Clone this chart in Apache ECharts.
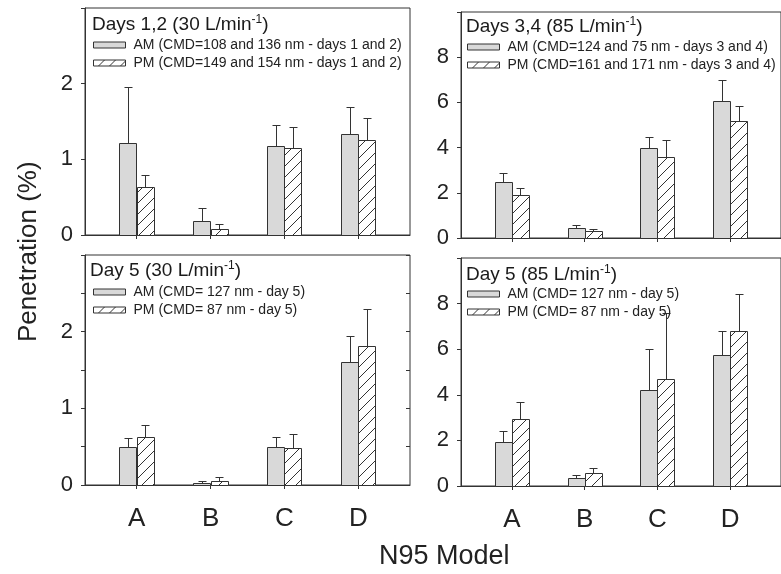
<!DOCTYPE html>
<html>
<head>
<meta charset="utf-8">
<title>N95 penetration</title>
<script src="https://cdn.jsdelivr.net/npm/echarts@6.0.0/dist/echarts.min.js"></script>
<style>
  html, body { margin: 0; padding: 0; background: #fff; }
</style>
</head>
<body>
<div id="chart" style="width:781px;height:574px;"></div>
<script>
    var categories = ['A', 'B', 'C', 'D'];

    // panel titles and legend names (top-left, top-right, bottom-left, bottom-right)
    var titles = ['Days 1,2 (30 L/min{s|-1})', 'Days 3,4 (85 L/min{s|-1})', 'Day 5 (30 L/min{s|-1})', 'Day 5 (85 L/min{s|-1})'];
    var amNames = ['AM (CMD=108 and 136 nm - days 1 and 2)', 'AM (CMD=124 and 75 nm - days 3 and 4)', 'AM (CMD= 127 nm - day 5)', 'AM (CMD= 127 nm - day 5)'];
    var pmNames = ['PM (CMD=149 and 154 nm - days 1 and 2)', 'PM (CMD=161 and 171 nm - days 3 and 4)', 'PM (CMD= 87 nm - day 5)', 'PM (CMD= 87 nm - day 5)'];

    // penetration (%) and top of error bar
    var tlAM = [1.22, 0.19, 1.18, 1.34];
    var tlAMErr = [1.95, 0.36, 1.46, 1.69];
    var tlPM = [0.63, 0.08, 1.15, 1.26];
    var tlPMErr = [0.79, 0.14, 1.43, 1.55];

    var trAM = [2.46, 0.44, 3.98, 6.08];
    var trAMErr = [2.87, 0.56, 4.49, 7.0];
    var trPM = [1.91, 0.31, 3.58, 5.18];
    var trPMErr = [2.21, 0.40, 4.32, 5.82];

    var blAM = [0.50, 0.03, 0.49, 1.61];
    var blAMErr = [0.61, 0.05, 0.63, 1.95];
    var blPM = [0.63, 0.05, 0.48, 1.81];
    var blPMErr = [0.78, 0.10, 0.67, 2.30];

    var brAM = [1.91, 0.35, 4.19, 5.74];
    var brAMErr = [2.41, 0.50, 5.99, 6.81];
    var brPM = [2.94, 0.56, 4.70, 6.80];
    var brPMErr = [3.67, 0.81, 7.59, 8.43];

    var amData = [tlAM, trAM, blAM, brAM];
    var amErr = [tlAMErr, trAMErr, blAMErr, brAMErr];
    var pmData = [tlPM, trPM, blPM, brPM];
    var pmErr = [tlPMErr, trPMErr, blPMErr, brPMErr];

    var yMax = [3, 10, 3, 10];
    var yStep = [1, 2, 0.5, 2];

    var grids = [
        {left: 85, top: 8, width: 325, height: 227},
        {left: 461, top: 12, width: 324, height: 226},
        {left: 85, top: 255, width: 325, height: 230},
        {left: 461, top: 258, width: 324, height: 228}
    ];
    var titlePos = [[92, 14], [466, 16], [90, 260], [466, 264]];
    var legendPos = [[93, 38], [467, 40], [93, 285], [467, 287]];

    var FONT = '"Liberation Sans", Arial, Helvetica, sans-serif';
    var INK = '#333';
    var barW = 0.235;

    function hatch() {
        var c = document.createElement('canvas');
        var s = 11;
        c.width = s; c.height = s;
        var ctx = c.getContext('2d');
        ctx.fillStyle = '#fff';
        ctx.fillRect(0, 0, s, s);
        ctx.strokeStyle = INK;
        ctx.lineWidth = 1;
        ctx.beginPath();
        ctx.moveTo(-1, s + 1); ctx.lineTo(s + 1, -1);
        ctx.moveTo(-1, 1); ctx.lineTo(1, -1);
        ctx.moveTo(s - 1, s + 1); ctx.lineTo(s + 1, s - 1);
        ctx.stroke();
        return c;
    }
    var hatchFill = {image: hatch(), repeat: 'repeat'};
    var greyFill = '#d9d9d9';

    // side: -1 = left of tick (AM), 1 = right of tick (PM)
    function barRender(side, fill) {
        return function (params, api) {
            var x = api.value(0), v = api.value(1), top = api.value(2);
            var x0 = side < 0 ? x - barW : x;
            var a = api.coord([x0, 0]);
            var b = api.coord([x0 + barW, v]);
            var cx = Math.round((a[0] + b[0]) / 2) + 0.5;
            var t = api.coord([x, top]);
            var ty = Math.round(t[1]) + 0.5;
            var by = Math.round(b[1]) + 0.5;
            return {
                type: 'group',
                children: [
                    {type: 'line', shape: {x1: cx, y1: by, x2: cx, y2: ty}, style: {stroke: INK, lineWidth: 1}},
                    {type: 'line', shape: {x1: cx - 4, y1: ty, x2: cx + 4, y2: ty}, style: {stroke: INK, lineWidth: 1}},
                    {
                        type: 'rect',
                        shape: {x: Math.round(a[0]) + 0.5, y: by, width: Math.round(b[0] - a[0]), height: Math.round(a[1]) - Math.round(b[1])},
                        style: {fill: fill, stroke: INK, lineWidth: 1}
                    }
                ]
            };
        };
    }

    function rows(vals, errs) {
        var out = [];
        for (var i = 0; i < vals.length; i++) {
            out.push([i + 1, vals[i], errs[i]]);
        }
        return out;
    }

    var option = {
        animation: false,
        backgroundColor: '#fff',
        textStyle: {fontFamily: FONT},
        grid: [], xAxis: [], yAxis: [], series: [], title: [], legend: [],
        graphic: [
            {
                type: 'text', rotation: Math.PI / 2, x: 16, y: 342,
                style: {text: 'Penetration (%)', fontSize: 26, fontFamily: FONT, fill: '#222'}
            },
            {
                type: 'text', x: 379, y: 543,
                style: {text: 'N95 Model', fontSize: 27, fontFamily: FONT, fill: '#222'}
            }
        ]
    };

    for (var g = 0; g < 4; g++) {
        var bottom = g >= 2;
        option.grid.push({
            left: grids[g].left, top: grids[g].top, width: grids[g].width, height: grids[g].height,
            show: true, borderColor: INK, borderWidth: 1, backgroundColor: 'transparent'
        });
        option.xAxis.push({
            type: 'value', gridIndex: g, min: 0.3, max: 4.7,
            splitLine: {show: false},
            axisLine: {show: true, onZero: false, lineStyle: {color: INK}},
            axisTick: {show: true, length: 4, customValues: [1, 2, 3, 4], lineStyle: {color: INK}},
            axisLabel: {
                show: bottom, customValues: [1, 2, 3, 4], margin: 21,
                fontSize: 26, color: '#222', fontFamily: FONT,
                formatter: function (v) { return categories[Math.round(v) - 1]; }
            }
        });
        (function (max) {
            option.yAxis.push({
                type: 'value', gridIndex: g, min: 0, max: max, interval: yStep[g],
                splitLine: {show: false},
                axisLine: {show: true, lineStyle: {color: INK}},
                axisTick: {show: true, length: 4, lineStyle: {color: INK}},
                axisLabel: {
                    fontSize: 22, color: '#222', margin: 12, fontFamily: FONT,
                    formatter: function (v) {
                        if (v >= max || v !== Math.round(v)) return '';
                        return String(v);
                    }
                }
            });
        })(yMax[g]);
        option.title.push({
            text: titles[g], left: titlePos[g][0], top: titlePos[g][1], padding: 0,
            textStyle: {
                fontSize: 19, fontWeight: 'normal', color: '#1a1a1a', fontFamily: FONT, lineHeight: 22,
                rich: {s: {fontSize: 12, verticalAlign: 'top', lineHeight: 13, color: '#1a1a1a', fontFamily: FONT}}
            }
        });
        option.legend.push({
            orient: 'vertical', left: legendPos[g][0], top: legendPos[g][1], padding: 0,
            itemWidth: 32, itemHeight: 6, itemGap: 4, icon: 'rect',
            textStyle: {fontSize: 14, color: '#222', fontFamily: FONT, padding: [0, 0, 0, 3]},
            data: [
                {name: amNames[g], itemStyle: {color: greyFill, borderColor: INK, borderWidth: 1}},
                {name: pmNames[g], itemStyle: {color: hatchFill, borderColor: INK, borderWidth: 1}}
            ]
        });
        option.series.push({
            type: 'custom', name: amNames[g], xAxisIndex: g, yAxisIndex: g,
            itemStyle: {color: greyFill},
            renderItem: barRender(-1, greyFill),
            data: rows(amData[g], amErr[g])
        });
        option.series.push({
            type: 'custom', name: pmNames[g], xAxisIndex: g, yAxisIndex: g,
            itemStyle: {color: hatchFill},
            renderItem: barRender(1, hatchFill),
            data: rows(pmData[g], pmErr[g])
        });
    }

    // inward ticks on the right edge of the lower-left panel
    option.yAxis.push({
        type: 'value', gridIndex: 2, position: 'right', min: 0, max: 3, interval: 0.5,
        splitLine: {show: false}, axisLine: {show: false},
        axisTick: {show: true, inside: true, length: 4, lineStyle: {color: INK}},
        axisLabel: {show: false}
    });

    var myChart = echarts.init(document.getElementById('chart'), null, {renderer: 'canvas'});
    myChart.setOption(option);
</script>
</body>
</html>
